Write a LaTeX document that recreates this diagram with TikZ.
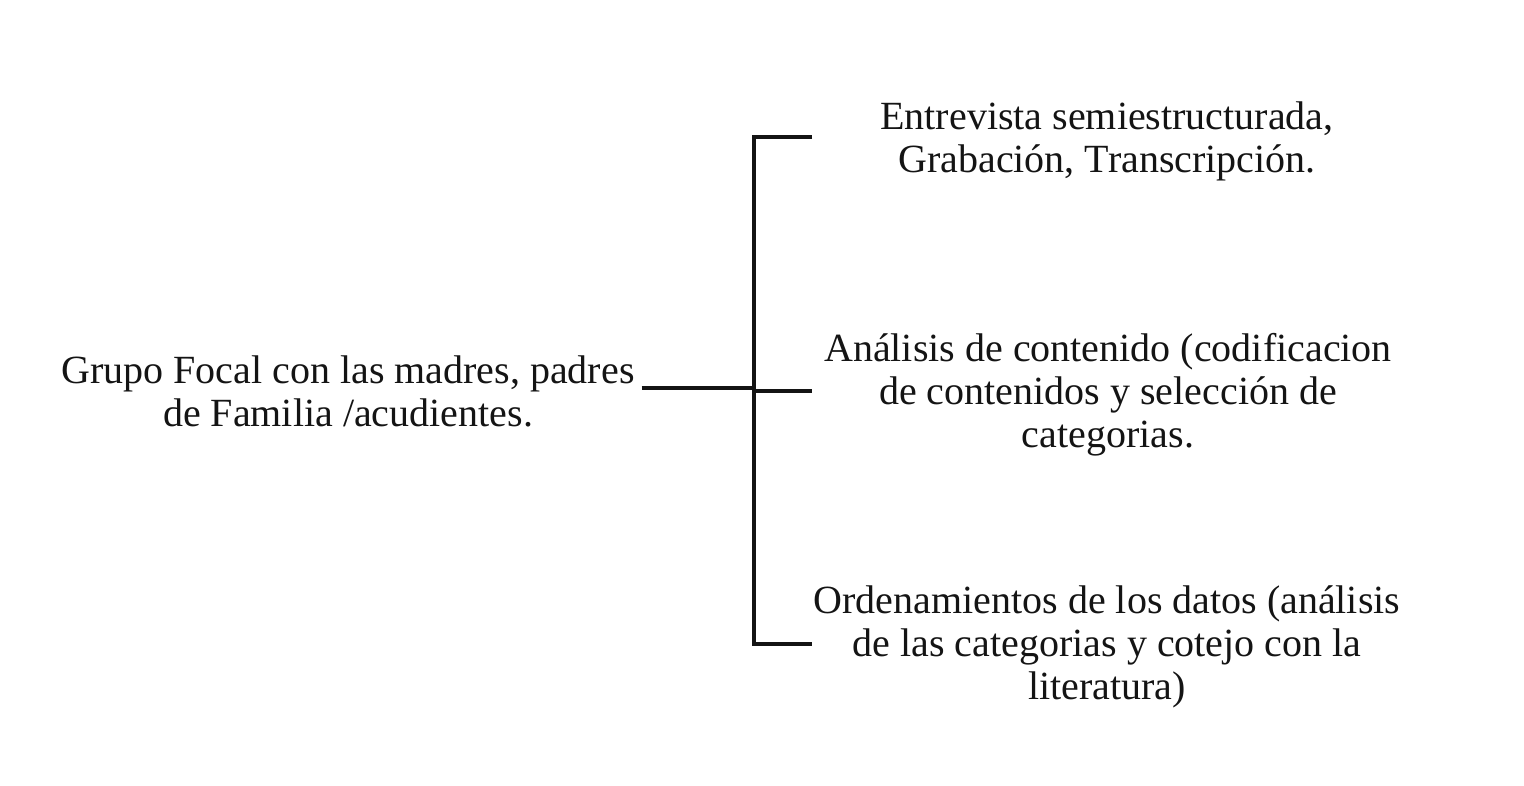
\documentclass[tikz,border=0pt]{standalone}
\usepackage{fontspec}
\setmainfont{Liberation Serif}
\usepackage{tikz}
\definecolor{jblack}  {RGB}{20,20,20}
\tikzset{
    stage/.style={align=center, text=jblack, font=\fontsize{20}{21.5}\selectfont},
    bracket/.style={draw=jblack, line width=1.8pt}
  }
\begin{document}
\begin{tikzpicture}[x=0.5pt, y=-0.5pt]
  \useasboundingbox (0,0) rectangle (1524,786);
  %Source group
      \node[stage] (focal) at (348,391) {Grupo Focal con las madres, padres\\de Familia /acudientes.};
  %Stages
      \node[stage] (entrevista) at (1107,141) {Entrevista semiestructurada,\\Grabación, Transcripción.};
      \node[stage] (analisis) at (1108,395) {Análisis de contenido (codificacion\\de contenidos y selección de\\categorias.};
      \node[stage] (orden) at (1107,647) {Ordenamientos de los datos (análisis\\de las categorias y cotejo con la\\literatura)};
  % bracket ends
      \coordinate (spinetop) at (754,137);
      \coordinate (spinemid) at (754,388);
      \coordinate (spinebot) at (754,644);
      \coordinate (tipA) at (812,137);
      \coordinate (tipB) at (812,391);
      \coordinate (tipC) at (812,644);
  % bracket
      \draw[bracket] (focal.east |- spinemid) -- (spinemid) ;
      \draw[bracket] (tipA) -- (spinetop) -- (spinebot) -- (tipC) ;
      \draw[bracket] (spinemid |- tipB) -- (tipB) ;
  \end{tikzpicture}
\end{document}
